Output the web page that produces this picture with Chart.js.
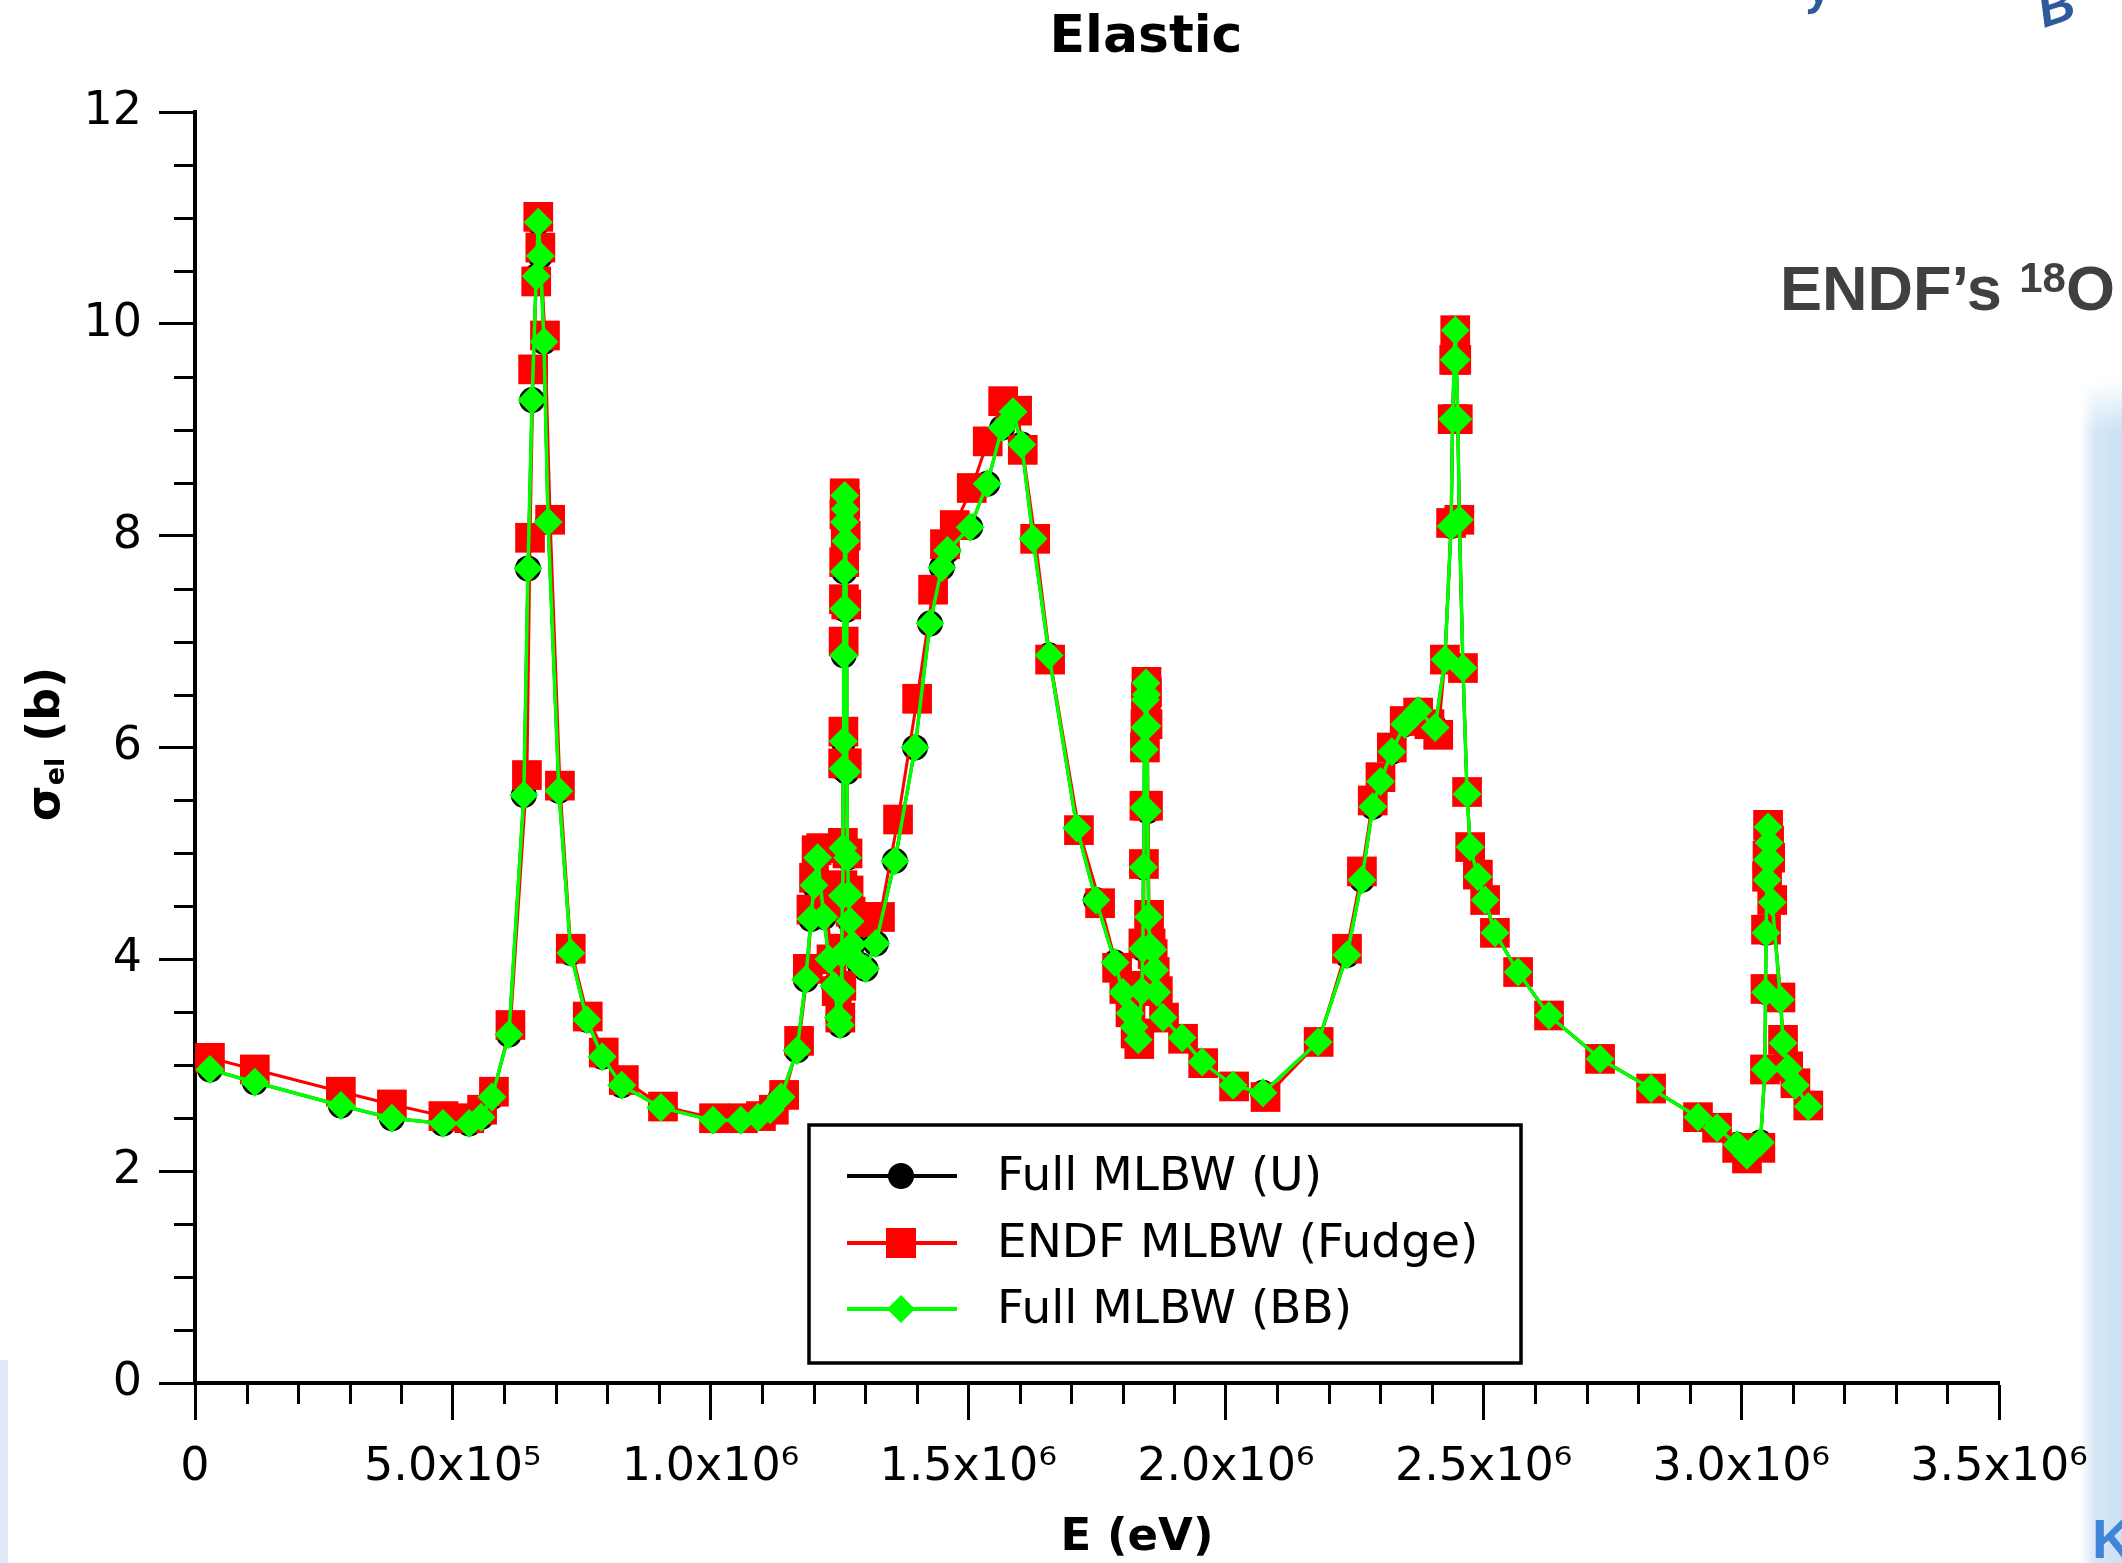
<!DOCTYPE html>
<html>
<head>
<meta charset="utf-8">
<title>Elastic</title>
<script src="https://cdn.jsdelivr.net/npm/chart.js@4.4.1/dist/chart.umd.min.js"></script>
<style>
  html, body { margin: 0; padding: 0; background: #fff; }
  #wrap { width: 2122px; height: 1563px; }
</style>
</head>
<body>
<div id="wrap"><canvas id="elasticChart" width="2122" height="1563"></canvas></div>
<script>
// Energy grid (eV) shared by the two "Full MLBW" reconstructions
const energyFull = [
  29e3, 116e3, 283e3, 382e3, 481e3, 532e3, 555e3, 576e3, 609e3, 638e3,
  646e3, 654e3, 662e3, 666e3, 670e3, 677e3, 685e3, 706e3, 729e3, 760e3,
  790e3, 828e3, 904e3, 1005e3, 1059e3, 1092e3, 1116e3, 1137e3, 1168e3, 1185e3,
  1195e3, 1201e3, 1208e3, 1220e3, 1230e3, 1240e3, 1248e3, 1252e3, 1254e3, 1255e3,
  1256e3, 1257e3, 1257.5e3, 1258e3, 1258.5e3, 1259e3, 1259.5e3, 1260e3, 1260.5e3, 1261.5e3,
  1262.5e3, 1263.5e3, 1264.5e3, 1266e3, 1268e3, 1271e3, 1276e3, 1290e3, 1301e3, 1321e3,
  1358e3, 1397e3, 1426e3, 1449e3, 1460e3, 1504e3, 1537e3, 1566e3, 1587e3, 1604e3,
  1626e3, 1657e3, 1711e3, 1748e3, 1785e3, 1800e3, 1814e3, 1822e3, 1830e3, 1837e3,
  1839e3, 1840e3, 1841e3, 1842e3, 1843e3, 1844e3, 1845e3, 1846e3, 1847e3, 1848e3,
  1850e3, 1853e3, 1858e3, 1862e3, 1866e3, 1878e3, 1915e3, 1954e3, 2014e3, 2072e3,
  2179e3, 2235e3, 2264e3, 2285e3, 2300e3, 2322e3, 2347e3, 2373e3, 2406e3, 2425e3,
  2437e3, 2440e3, 2443e3, 2445e3, 2447e3, 2450e3, 2453e3, 2460e3, 2468e3, 2474e3,
  2489e3, 2503e3, 2522e3, 2567e3, 2627e3, 2726e3, 2825e3, 2916e3, 2953e3, 2992e3,
  3011e3, 3037e3, 3046e3, 3047e3, 3048e3, 3050e3, 3051e3, 3052e3, 3054e3, 3056e3,
  3060e3, 3076e3, 3081e3, 3091e3, 3105e3, 3130e3
];

// sigma_el (b), Full MLBW (U)
const sigmaU = [
  2.96, 2.84, 2.62, 2.50, 2.45, 2.45, 2.51, 2.70, 3.29, 5.55,
  7.69, 9.28, 10.45, 10.96, 10.64, 9.83, 8.13, 5.59, 4.06, 3.43,
  3.08, 2.81, 2.60, 2.48, 2.48, 2.51, 2.58, 2.70, 3.14, 3.81,
  4.38, 4.70, 4.96, 4.40, 4.00, 3.75, 3.45, 3.38, 3.70, 4.05,
  4.60, 5.05, 5.80, 6.06, 6.87, 7.31, 7.66, 8.13, 8.38, 8.25,
  7.95, 7.30, 5.77, 4.96, 4.61, 4.36, 4.14, 3.95, 3.91, 4.15,
  4.93, 6.00, 7.17, 7.70, 7.86, 8.08, 8.49, 9.02, 9.17, 8.86,
  7.97, 6.87, 5.24, 4.56, 3.97, 3.69, 3.49, 3.36, 3.24, 3.70,
  4.10, 4.87, 5.43, 5.98, 6.19, 6.45, 6.63, 6.50, 6.20, 5.40,
  4.40, 4.12, 4.09, 3.90, 3.69, 3.45, 3.26, 3.03, 2.81, 2.74,
  3.22, 4.04, 4.75, 5.44, 5.68, 5.96, 6.22, 6.35, 6.19, 6.83,
  8.09, 9.10, 9.66, 9.94, 9.66, 9.10, 8.15, 6.75, 5.56, 5.06,
  4.78, 4.56, 4.25, 3.88, 3.47, 3.06, 2.78, 2.51, 2.41, 2.25,
  2.15, 2.27, 2.96, 3.69, 4.25, 4.75, 4.94, 5.25, 5.10, 4.94,
  4.54, 3.62, 3.21, 2.97, 2.81, 2.61
];

// sigma_el (b), Full MLBW (BB)
const sigmaBB = [
  2.96, 2.84, 2.62, 2.50, 2.45, 2.45, 2.51, 2.70, 3.29, 5.55,
  7.69, 9.28, 10.45, 10.96, 10.64, 9.83, 8.13, 5.59, 4.06, 3.43,
  3.08, 2.81, 2.60, 2.48, 2.48, 2.51, 2.58, 2.70, 3.14, 3.81,
  4.38, 4.70, 4.96, 4.40, 4.00, 3.75, 3.45, 3.38, 3.70, 4.05,
  4.60, 5.05, 5.80, 6.06, 6.87, 7.31, 7.66, 8.13, 8.38, 8.25,
  7.95, 7.30, 5.77, 4.96, 4.61, 4.36, 4.14, 3.95, 3.91, 4.15,
  4.93, 6.00, 7.17, 7.70, 7.86, 8.08, 8.49, 9.02, 9.17, 8.86,
  7.97, 6.87, 5.24, 4.56, 3.97, 3.69, 3.49, 3.36, 3.24, 3.70,
  4.10, 4.87, 5.43, 5.98, 6.19, 6.45, 6.61, 6.50, 6.20, 5.40,
  4.40, 4.12, 4.09, 3.90, 3.69, 3.45, 3.26, 3.03, 2.81, 2.74,
  3.22, 4.04, 4.75, 5.44, 5.68, 5.96, 6.22, 6.35, 6.19, 6.83,
  8.09, 9.10, 9.66, 9.94, 9.66, 9.10, 8.15, 6.75, 5.56, 5.06,
  4.78, 4.56, 4.25, 3.88, 3.47, 3.06, 2.78, 2.51, 2.41, 2.25,
  2.15, 2.27, 2.96, 3.69, 4.25, 4.75, 4.94, 5.25, 5.10, 4.94,
  4.54, 3.62, 3.21, 2.97, 2.81, 2.61
];

// ENDF MLBW (Fudge) has its own energy grid (eV)
const energyFudge = [
  29e3, 116e3, 283e3, 382e3, 482e3, 532e3, 557e3, 580e3, 612e3, 644e3,
  650e3, 656e3, 662e3, 666e3, 670e3, 679e3, 689e3, 708e3, 729e3, 762e3,
  793e3, 832e3, 908e3, 1007e3, 1063e3, 1098e3, 1123e3, 1143e3, 1172e3, 1189e3,
  1196e3, 1201e3, 1206e3, 1215e3, 1225e3, 1235e3, 1245e3, 1252e3, 1254e3, 1255e3,
  1256e3, 1257e3, 1257.5e3, 1258e3, 1258.5e3, 1259e3, 1259.5e3, 1260e3, 1260.5e3, 1261.5e3,
  1262.5e3, 1263.5e3, 1264.5e3, 1266e3, 1268e3, 1272e3, 1285e3, 1306e3, 1329e3, 1364e3,
  1401e3, 1432e3, 1455e3, 1474e3, 1507e3, 1538e3, 1568e3, 1595e3, 1606e3, 1630e3,
  1659e3, 1715e3, 1756e3, 1789e3, 1803e3, 1815e3, 1825e3, 1832e3, 1838e3, 1840e3,
  1841e3, 1842e3, 1843e3, 1844e3, 1845e3, 1846e3, 1847e3, 1848e3, 1849e3, 1851e3,
  1854e3, 1858e3, 1862e3, 1868e3, 1880e3, 1917e3, 1956e3, 2016e3, 2077e3, 2180e3,
  2235e3, 2264e3, 2285e3, 2300e3, 2322e3, 2347e3, 2373e3, 2395e3, 2412e3, 2425e3,
  2437e3, 2440e3, 2443e3, 2445e3, 2447e3, 2450e3, 2453e3, 2460e3, 2468e3, 2474e3,
  2489e3, 2503e3, 2522e3, 2567e3, 2627e3, 2726e3, 2825e3, 2916e3, 2953e3, 2992e3,
  3011e3, 3037e3, 3046e3, 3047e3, 3048e3, 3050e3, 3051e3, 3052e3, 3054e3, 3056e3,
  3060e3, 3076e3, 3081e3, 3091e3, 3105e3, 3130e3
];

const sigmaFudge = [
  3.07, 2.96, 2.75, 2.63, 2.52, 2.50, 2.58, 2.75, 3.38, 5.74,
  7.98, 9.57, 10.40, 11.01, 10.72, 9.89, 8.15, 5.64, 4.10, 3.46,
  3.12, 2.86, 2.61, 2.50, 2.50, 2.52, 2.58, 2.72, 3.23, 3.91,
  4.47, 4.77, 5.03, 5.05, 4.50, 4.00, 3.70, 3.45, 3.75, 4.10,
  4.70, 5.10, 5.85, 6.15, 7.00, 7.40, 7.75, 8.20, 8.40, 8.30,
  8.00, 7.35, 5.85, 5.00, 4.65, 4.45, 4.35, 4.40, 4.40, 5.32,
  6.46, 7.49, 7.92, 8.10, 8.45, 8.89, 9.27, 9.18, 8.81, 7.97,
  6.83, 5.22, 4.53, 3.92, 3.72, 3.50, 3.30, 3.20, 3.75, 4.15,
  4.90, 5.45, 6.00, 6.22, 6.48, 6.62, 6.52, 6.22, 5.45, 4.42,
  4.15, 4.05, 3.88, 3.70, 3.45, 3.25, 3.02, 2.80, 2.70, 3.22,
  4.10, 4.83, 5.50, 5.72, 6.00, 6.25, 6.33, 6.22, 6.12, 6.83,
  8.12, 9.10, 9.66, 9.94, 9.66, 9.10, 8.15, 6.75, 5.58, 5.06,
  4.80, 4.56, 4.25, 3.88, 3.47, 3.06, 2.78, 2.51, 2.41, 2.22,
  2.12, 2.22, 2.96, 3.72, 4.28, 4.78, 4.98, 5.27, 5.12, 4.96,
  4.56, 3.64, 3.24, 2.99, 2.83, 2.62
];

// Axis ticks
const xTickValues = [0, 5e5, 1e6, 1.5e6, 2e6, 2.5e6, 3e6, 3.5e6];
const xTickLabels = ['0', '5.0x10⁵', '1.0x10⁶', '1.5x10⁶', '2.0x10⁶', '2.5x10⁶', '3.0x10⁶', '3.5x10⁶'];
const yTickValues = [0, 2, 4, 6, 8, 10, 12];

const seriesNames = ['Full MLBW (U)', 'ENDF MLBW (Fudge)', 'Full MLBW (BB)'];

function toPoints(xs, ys) {
    return xs.map((x, i) => ({ x: x, y: ys[i] }));
}

Chart.defaults.font.family = '"DejaVu Sans", sans-serif';
Chart.defaults.color = '#000';

// Minor ticks, titles, legend box and the slide decorations
const plotExtras = {
    id: 'plotExtras',
    beforeDraw(chart) {
        const ctx = chart.ctx;
        ctx.save();
        ctx.fillStyle = '#ffffff';
        ctx.fillRect(0, 0, chart.width, chart.height);

        // pale blue slide edge on the right
        const band = ctx.createLinearGradient(2080, 0, 2122, 0);
        band.addColorStop(0, 'rgba(215,231,247,0)');
        band.addColorStop(0.35, 'rgba(215,231,247,1)');
        band.addColorStop(1, 'rgba(203,224,245,1)');
        ctx.fillStyle = band;
        ctx.fillRect(2080, 380, 42, chart.height - 380);
        // soft top end of the band
        const fade = ctx.createLinearGradient(0, 380, 0, 430);
        fade.addColorStop(0, 'rgba(255,255,255,1)');
        fade.addColorStop(1, 'rgba(255,255,255,0)');
        ctx.fillStyle = fade;
        ctx.fillRect(2080, 380, 42, 50);

        // pale strip at bottom left
        ctx.fillStyle = '#dfeaf6';
        ctx.fillRect(0, 1360, 8, chart.height - 1360);

        // fragments of slide lettering
        ctx.fillStyle = '#2d5a9b';
        ctx.font = 'bold italic 50px "Liberation Sans"';
        ctx.save();
        ctx.translate(2044, 28);
        ctx.rotate(-0.32);
        ctx.fillText('B', 0, 0);
        ctx.restore();
        ctx.save();
        ctx.translate(1808, 4);
        ctx.rotate(-0.2);
        ctx.fillText('y', 0, 0);
        ctx.restore();
        ctx.fillStyle = '#3f86d6';
        ctx.font = 'bold 56px "Liberation Sans"';
        ctx.fillText('K', 2092, 1558);
        ctx.restore();
    },
    afterDraw(chart) {
        const ctx = chart.ctx;
        const xs = chart.scales.x;
        const ys = chart.scales.y;
        const area = chart.chartArea;
        ctx.save();

        // minor ticks
        ctx.strokeStyle = '#000';
        ctx.lineWidth = 3;
        ctx.beginPath();
        for (let k = 1; k < 35; k++) {
            if (k % 5 === 0) continue;
            const px = Math.round(xs.getPixelForValue(k * 1e5)) + 0.5;
            ctx.moveTo(px, area.bottom);
            ctx.lineTo(px, area.bottom + 21);
        }
        for (let k = 1; k < 24; k++) {
            if (k % 4 === 0) continue;
            const py = Math.round(ys.getPixelForValue(k * 0.5)) + 0.5;
            ctx.moveTo(area.left - 21, py);
            ctx.lineTo(area.left, py);
        }
        ctx.stroke();

        // chart title
        ctx.fillStyle = '#000';
        ctx.textAlign = 'center';
        ctx.textBaseline = 'middle';
        ctx.font = 'bold 52px "DejaVu Sans"';
        ctx.fillText('Elastic', 1146, 38);

        // x axis title
        ctx.font = 'bold 45px "DejaVu Sans"';
        ctx.fillText('E (eV)', 1137, 1538);

        // y axis title with subscript
        ctx.save();
        ctx.translate(47, 744);
        ctx.rotate(-Math.PI / 2);
        ctx.textAlign = 'left';
        const big = 'bold 46px "DejaVu Sans"';
        const small = 'bold 27px "DejaVu Sans"';
        ctx.font = big;
        const wSigma = ctx.measureText('σ').width;
        const wRest = ctx.measureText(' (b)').width;
        ctx.font = small;
        const wSub = ctx.measureText('el').width;
        let tx = -(wSigma + wSub + wRest) / 2;
        ctx.font = big;
        ctx.fillText('σ', tx, 0);
        tx += wSigma;
        ctx.font = small;
        ctx.fillText('el', tx, 10);
        tx += wSub;
        ctx.font = big;
        ctx.fillText(' (b)', tx, 0);
        ctx.restore();

        // legend box
        const box = { left: 809, top: 1125, right: 1521, bottom: 1363 };
        ctx.fillStyle = '#fff';
        ctx.fillRect(box.left, box.top, box.right - box.left, box.bottom - box.top);
        ctx.lineWidth = 3.5;
        ctx.strokeStyle = '#000';
        ctx.strokeRect(box.left, box.top, box.right - box.left, box.bottom - box.top);

        const rowY = [1176, 1243, 1309];
        ctx.textAlign = 'left';
        ctx.textBaseline = 'middle';
        ctx.font = '47px "DejaVu Sans"';
        chart.data.datasets.forEach((ds, row) => {
            const y = rowY[row];
            ctx.strokeStyle = ds.borderColor;
            ctx.lineWidth = 4;
            ctx.beginPath();
            ctx.moveTo(847, y);
            ctx.lineTo(957, y);
            ctx.stroke();
            ctx.fillStyle = ds.backgroundColor;
            ctx.beginPath();
            if (ds.pointStyle === 'circle') {
                ctx.arc(901, y, 13, 0, Math.PI * 2);
            } else if (ds.pointStyle === 'rect') {
                ctx.rect(886, y - 15, 30, 30);
            } else {
                ctx.moveTo(901 - 14, y);
                ctx.lineTo(901, y - 14);
                ctx.lineTo(901 + 14, y);
                ctx.lineTo(901, y + 14);
                ctx.closePath();
            }
            ctx.fill();
            ctx.fillStyle = '#000';
            ctx.fillText(ds.label, 997, y + 2);
        });

        // nuclide annotation
        ctx.fillStyle = '#404040';
        ctx.textBaseline = 'alphabetic';
        ctx.font = 'bold 63px "Liberation Sans"';
        let ax = 1780;
        ctx.fillText('ENDF’s ', ax, 310);
        ax += ctx.measureText('ENDF’s ').width;
        ctx.font = 'bold 42px "Liberation Sans"';
        ctx.fillText('18', ax, 292);
        ax += ctx.measureText('18').width;
        ctx.font = 'bold 63px "Liberation Sans"';
        ctx.fillText('O', ax, 310);

        ctx.restore();
    }
};

const ctx = document.getElementById('elasticChart').getContext('2d');

const elasticChart = new Chart(ctx, {
    type: 'scatter',
    data: {
        datasets: [
            {
                label: seriesNames[0],
                data: toPoints(energyFull, sigmaU),
                showLine: true,
                borderColor: '#000000',
                backgroundColor: '#000000',
                borderWidth: 3,
                pointStyle: 'circle',
                pointRadius: 13,
                pointBorderWidth: 0,
                order: 3
            },
            {
                label: seriesNames[1],
                data: toPoints(energyFudge, sigmaFudge),
                showLine: true,
                borderColor: '#ff0000',
                backgroundColor: '#ff0000',
                borderWidth: 3,
                pointStyle: 'rect',
                pointRadius: 21,
                pointBorderWidth: 0,
                order: 2
            },
            {
                label: seriesNames[2],
                data: toPoints(energyFull, sigmaBB),
                showLine: true,
                borderColor: '#00ff00',
                backgroundColor: '#00ff00',
                borderWidth: 3.5,
                pointStyle: 'rectRot',
                pointRadius: 14.5,
                pointBorderWidth: 0,
                order: 1
            }
        ]
    },
    options: {
        responsive: false,
        animation: false,
        events: [],
        layout: {
            padding: { left: 0, right: 123, top: 112, bottom: 0 }
        },
        plugins: {
            legend: { display: false },
            title: { display: false },
            tooltip: { enabled: false }
        },
        elements: {
            line: { tension: 0 }
        },
        scales: {
            x: {
                type: 'linear',
                min: 0,
                max: 3.5e6,
                afterFit: (scale) => { scale.height = 180; },
                afterBuildTicks: (scale) => {
                    scale.ticks = xTickValues.map(v => ({ value: v }));
                },
                grid: {
                    drawOnChartArea: false,
                    drawTicks: true,
                    tickLength: 37,
                    tickWidth: 3,
                    tickColor: '#000'
                },
                border: { display: true, color: '#000', width: 4 },
                ticks: {
                    autoSkip: false,
                    maxRotation: 0,
                    padding: 20,
                    color: '#000',
                    font: { size: 46 },
                    callback: (value) => xTickLabels[xTickValues.indexOf(value)]
                }
            },
            y: {
                type: 'linear',
                min: 0,
                max: 12,
                afterFit: (scale) => { scale.width = 195; },
                afterBuildTicks: (scale) => {
                    scale.ticks = yTickValues.map(v => ({ value: v }));
                },
                grid: {
                    drawOnChartArea: false,
                    drawTicks: true,
                    tickLength: 36,
                    tickWidth: 3,
                    tickColor: '#000'
                },
                border: { display: true, color: '#000', width: 4 },
                ticks: {
                    padding: 17,
                    color: '#000',
                    font: { size: 46 },
                    callback: (value) => String(value)
                }
            }
        }
    },
    plugins: [plotExtras]
});
</script>
</body>
</html>
